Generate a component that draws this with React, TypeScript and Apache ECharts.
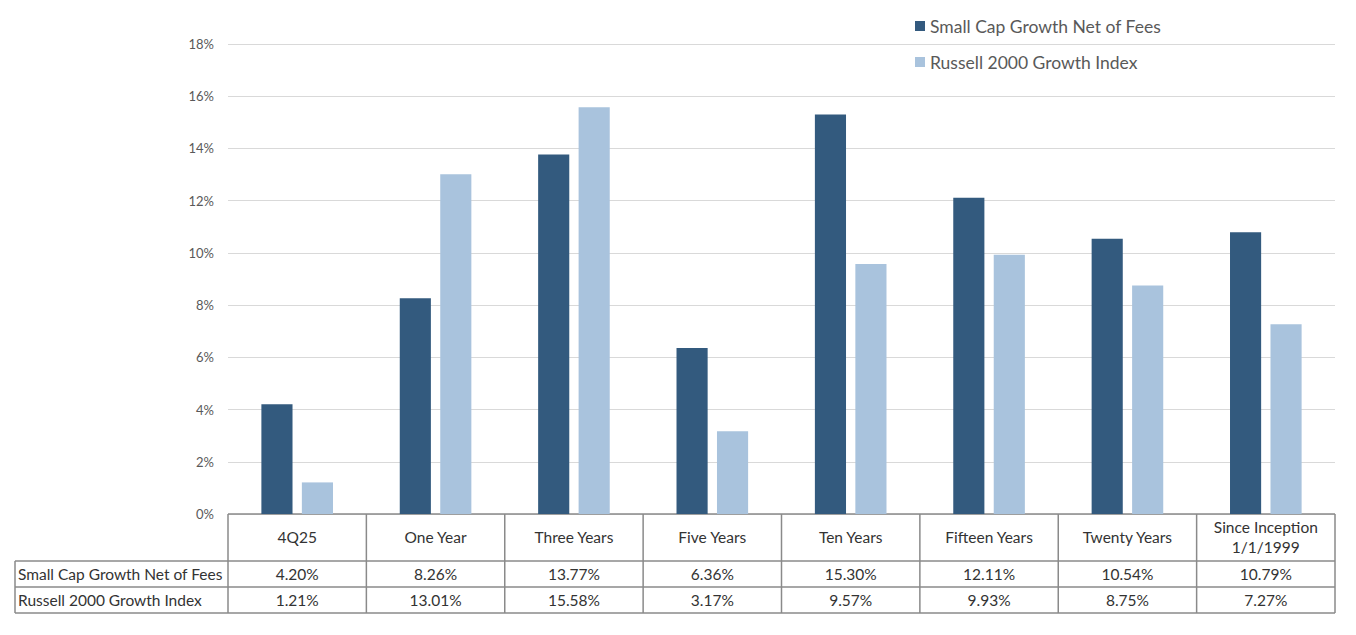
import React, { useEffect, useRef } from "react";
import * as echarts from "echarts";

const categories = ["4Q25", "One Year", "Three Years", "Five Years", "Ten Years", "Fifteen Years", "Twenty Years", "Since Inception\n1/1/1999"];
const seriesNames = ["Small Cap Growth Net of Fees", "Russell 2000 Growth Index"];
const fundValues = [4.2, 8.26, 13.77, 6.36, 15.3, 12.11, 10.54, 10.79];
const indexValues = [1.21, 13.01, 15.58, 3.17, 9.57, 9.93, 8.75, 7.27];
const yTicks = { min: 0, max: 18, interval: 2 };

const W = 1356;
const H = 635;
const GRID = { left: 228, right: 21, top: 44, bottom: 121 };
const FONT = "Lato, 'Open Sans', 'Noto Sans', sans-serif";
const DARK = "#335A7E";
const LIGHT = "#A9C3DD";
const BORDER = "#8A8A8A";
const TABLE_FS = 15.5;

export default function App() {
  const ref = useRef<HTMLDivElement>(null);
  useEffect(() => {
    document.body.style.margin = "0";
    const chart = echarts.init(ref.current!, null, { renderer: "svg" });
    const option: any = {
      animation: false,
      backgroundColor: "#ffffff",
      textStyle: { fontFamily: FONT },
      legend: {
        orient: "vertical",
        left: 910,
        top: 12,
        itemWidth: 10,
        itemHeight: 10,
        itemGap: 18,
        icon: "rect",
        textStyle: { fontSize: 17.5, color: "#595959", fontFamily: FONT },
        data: seriesNames,
      },
      grid: GRID,
      xAxis: {
        type: "category",
        data: categories,
        axisLine: { show: false },
        axisTick: { show: false },
        axisLabel: {
          interval: 0,
          margin: 23,
          verticalAlign: "middle",
          fontSize: TABLE_FS,
          lineHeight: 20,
          color: "#333333",
          fontFamily: FONT,
        },
      },
      yAxis: {
        type: "value",
        min: yTicks.min,
        max: yTicks.max,
        interval: yTicks.interval,
        axisLine: { show: false },
        axisTick: { show: false },
        axisLabel: {
          formatter: "{value}%",
          fontSize: 13,
          color: "#595959",
          margin: 14,
          fontFamily: FONT,
        },
        splitLine: { lineStyle: { color: "#D9D9D9", width: 1 } },
      },
      series: [
        {
          name: seriesNames[0],
          type: "bar",
          data: fundValues,
          barWidth: "22.5%",
          barGap: "30%",
          itemStyle: { color: DARK },
        },
        {
          name: seriesNames[1],
          type: "bar",
          data: indexValues,
          barWidth: "22.5%",
          barGap: "30%",
          itemStyle: { color: LIGHT },
        },
      ],
    };
    chart.setOption(option);

    // Build the data table from the axis scale positions
    const c0 = chart.convertToPixel({ xAxisIndex: 0 }, 0) as number;
    const c1 = chart.convertToPixel({ xAxisIndex: 0 }, 1) as number;
    const cw = c1 - c0;
    const yZero = chart.convertToPixel({ yAxisIndex: 0 }, 0) as number;
    const headerBottom = yZero + 47;
    const row1Bottom = headerBottom + 26;
    const row2Bottom = row1Bottom + 26;
    const tableLeft = 15;
    const firstBoundary = c0 - cw / 2;
    const lastBoundary = firstBoundary + cw * categories.length;
    const lineStyle = { stroke: BORDER, lineWidth: 1.5 };
    const els: any[] = [];
    els.push({ type: "line", shape: { x1: firstBoundary, y1: yZero, x2: lastBoundary, y2: yZero }, style: lineStyle });
    [headerBottom, row1Bottom, row2Bottom].forEach((y) =>
      els.push({ type: "line", shape: { x1: tableLeft, y1: y, x2: lastBoundary, y2: y }, style: lineStyle })
    );
    els.push({ type: "line", shape: { x1: tableLeft, y1: headerBottom, x2: tableLeft, y2: row2Bottom }, style: lineStyle });
    for (let k = 0; k <= categories.length; k++) {
      const x = firstBoundary + k * cw;
      els.push({ type: "line", shape: { x1: x, y1: yZero, x2: x, y2: row2Bottom }, style: lineStyle });
    }
    const rows = [fundValues, indexValues];
    const rowCenters = [(headerBottom + row1Bottom) / 2, (row1Bottom + row2Bottom) / 2];
    rows.forEach((vals, r) => {
      els.push({
        type: "text",
        x: tableLeft + 3,
        y: rowCenters[r],
        style: { text: seriesNames[r], fontSize: TABLE_FS, fill: "#333333", fontFamily: FONT, align: "left", verticalAlign: "middle" },
      });
      vals.forEach((v, i) => {
        const cx = chart.convertToPixel({ xAxisIndex: 0 }, i) as number;
        els.push({
          type: "text",
          x: cx,
          y: rowCenters[r],
          style: { text: v.toFixed(2) + "%", fontSize: TABLE_FS, fill: "#333333", fontFamily: FONT, align: "center", verticalAlign: "middle" },
        });
      });
    });
    chart.setOption({ graphic: { elements: els } });

    return () => chart.dispose();
  }, []);
  return <div ref={ref} style={{ width: W, height: H }} />;
}
